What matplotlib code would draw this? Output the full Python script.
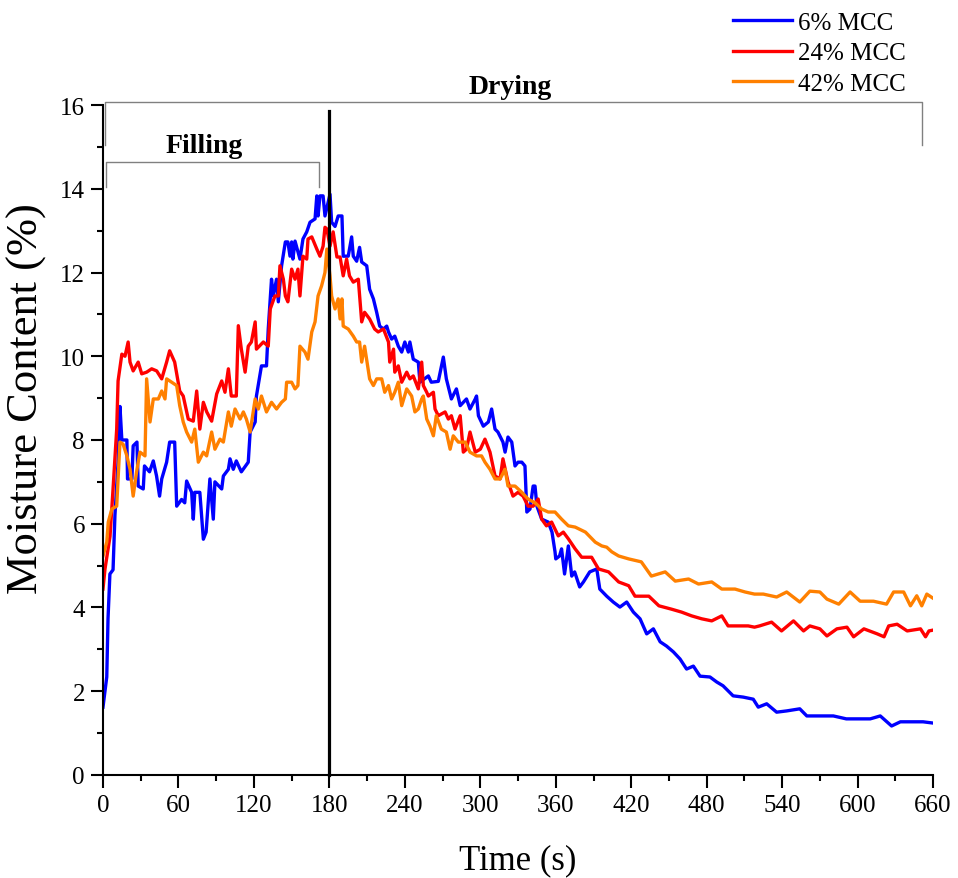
import matplotlib
matplotlib.use("Agg")
import matplotlib.pyplot as plt
from matplotlib.ticker import MultipleLocator

plt.rcParams["font.family"] = "Liberation Serif"

# 6% MCC
t_6 = [0, 3, 4, 5.5, 8, 9.5, 12, 13.5, 15, 19, 19.5, 23, 24, 27, 28, 32, 33, 37, 40, 42.6,
       45, 46.7, 50.6, 53, 57, 58.6, 62.5, 65, 66.5, 70.5, 71.8, 73, 77, 79.8, 82, 85, 87.7, 89,
       94.4, 95.7, 99.7, 101, 103.6, 106, 110, 115.5, 117, 121, 122, 126, 130, 131.4, 134, 135.4,
       138, 139.4, 142, 145, 147, 148.7, 150, 151, 152.7, 156.6, 159, 162, 164.6, 168.6, 170, 171,
       172.5, 175, 176.5, 180.5, 181.8, 184.5, 187, 190, 191, 195, 197.7, 199, 201.7, 204, 205.7,
       209.7, 212, 215, 217.6, 220, 223, 225.6, 227, 229.5, 232, 234.8, 237.5, 240, 242.8, 244,
       246.7, 250.7, 252, 258.7, 261, 266.6, 270.6, 273, 277, 281, 284, 289, 291.8, 296, 297,
       298.5, 302.4, 306.4, 309, 311.7, 314, 318, 319.7, 322, 325, 327.6, 330, 333, 335.5, 337,
       339.5, 342, 343.5, 345, 348.8, 354, 357, 359.4, 360, 363, 364.6, 367, 370, 372.7, 375, 379,
       382, 387, 392.6, 395, 400.5, 405.7, 411, 416.4, 421.7, 427, 432.3, 437.6, 443, 448, 453.5,
       458.8, 464, 469.4, 474.7, 482.6, 488, 493, 501, 509, 517, 521, 527.7, 535.6, 543.6, 554,
       559.6, 570, 580.7, 591, 602, 610, 618, 627, 634, 644, 652, 660]
mc_6 = [1.62, 2.34, 3.73, 4.8, 4.9, 6.2, 7.47, 8.8, 8.0, 8.0, 7.07, 7.07, 7.86, 7.95, 6.9, 6.83, 7.38, 7.24, 7.5, 7.14,
        6.66, 7.07, 7.47, 7.95, 7.95, 6.42, 6.58, 6.5, 7.02, 6.75, 6.11, 6.75, 6.75, 5.63, 5.8, 7.07, 6.11, 7.0,
        6.83, 7.14, 7.3, 7.55, 7.3, 7.5, 7.24, 7.47, 8.19, 8.43, 9.05, 9.77, 9.77, 10.65, 11.84, 11.44,
        11.84, 11.3, 12.16, 12.73, 12.73, 12.39, 12.73, 12.32, 12.75, 12.32, 12.8, 12.97, 13.2, 13.28, 13.83, 13.35,
        13.83, 13.83, 13.35, 13.87, 13.2, 13.1, 13.35, 13.35, 12.39, 12.39, 12.85, 12.39, 12.27, 12.6, 12.25,
        12.16, 11.6, 11.37, 11.05, 10.72, 10.65, 10.72, 10.58, 10.41, 10.48, 10.24, 10.1, 10.34, 10.1, 10.34,
        9.93, 9.86, 9.38, 9.53, 9.38, 9.4, 9.98, 9.46, 8.98, 9.22, 8.82, 8.98, 8.74, 8.98, 9.05,
        8.58, 8.33, 8.43, 8.74, 8.26, 8.19, 7.95, 7.71, 8.07, 7.95, 7.38, 7.47, 7.47, 7.38, 6.28,
        6.35, 6.9, 6.9, 6.42, 6.11, 6.04, 5.8, 5.33, 5.16, 5.23, 5.4, 4.8, 5.47, 4.75, 4.85, 4.49,
        4.61, 4.85, 4.92, 4.44, 4.27, 4.13, 4.01, 4.13, 3.89, 3.73, 3.37, 3.49, 3.18, 3.08, 2.94,
        2.77, 2.53, 2.6, 2.36, 2.34, 2.22, 2.13, 1.89, 1.86, 1.81, 1.62, 1.7, 1.5, 1.53, 1.58,
        1.41, 1.41, 1.41, 1.34, 1.34, 1.34, 1.41, 1.17, 1.27, 1.27, 1.27, 1.24]

# 24% MCC
t_24 = [0, 1.6, 5.6, 8, 10.9, 12, 15, 17.5, 20, 21.5, 24, 28, 30.8, 34.7, 38.7, 42.7, 46.7, 50.6, 53, 57,
        61, 63.8, 67.8, 71.8, 74.5, 77, 79.8, 82.5, 86.4, 90.4, 94.4, 97, 99.7, 102, 106, 107.6, 110,
        113, 115.5, 118, 121, 122, 127.5, 131.4, 133, 136.7, 139.4, 140.7, 143.4, 145, 147, 150, 152.7,
        155, 156.6, 159, 162, 163, 166, 170, 172.5, 175, 176.5, 178, 180.5, 183, 186, 188.5, 191,
        193.7, 196, 199, 203, 205.7, 208, 212, 216, 218.8, 223, 227, 228, 231, 232, 234.8, 237.5,
        241.5, 244, 246.7, 250.7, 253.4, 254.7, 257.4, 258.7, 262.7, 264, 266.6, 272, 274.6, 277,
        279.9, 284, 286.5, 289, 291.8, 296, 300, 303.7, 307.7, 311.7, 315.7, 318, 322, 326, 330,
        334, 338, 342, 346, 348.8, 352.6, 356.7, 362, 366, 370, 375.4, 380.6, 388.5, 394, 402, 410,
        418, 423, 434, 442, 452, 460, 468, 476, 484, 492, 497, 505, 513, 518, 522, 531.6, 539.5,
        549, 557, 562, 570, 575.6, 583.5, 591.5, 596.8, 605, 615.6, 621, 624.7, 631.4, 639.4, 650,
        654, 656.7, 660]
mc_24 = [4.44, 4.92, 5.7, 6.83, 8.26, 9.41, 10.05, 10.0, 10.34, 9.86, 9.65, 9.86, 9.58, 9.62, 9.7, 9.65, 9.46, 9.86, 10.13, 9.86,
         9.17, 9.05, 8.5, 8.45, 9.17, 8.26, 8.9, 8.67, 8.45, 9.1, 9.41, 9.14, 9.7, 9.05, 9.05, 10.73, 10.17,
         9.62, 10.24, 10.34, 10.82, 10.17, 10.34, 10.24, 11.13, 11.44, 11.44, 12.16, 11.84, 11.44, 11.3, 12.08, 11.84,
         12.08, 11.44, 12.39, 12.32, 12.8, 12.85, 12.56, 12.39, 12.63, 13.08, 13.04, 12.63, 12.97, 12.37, 12.37, 11.92,
         12.32, 11.92, 11.77, 11.84, 10.82, 11.05, 10.89, 10.65, 10.58, 10.65, 10.34, 9.86, 10.17, 9.62, 9.77, 9.38,
         9.62, 9.46, 9.53, 9.22, 9.86, 9.3, 9.14, 9.05, 9.14, 8.74, 8.58, 8.67, 8.5, 8.58,
         8.26, 8.58, 7.71, 7.78, 8.19, 7.71, 7.78, 8.02, 7.71, 7.14, 7.07, 7.55, 7.0, 6.66, 6.75,
         6.66, 6.42, 6.42, 6.59, 6.11, 5.95, 6.04, 5.71, 5.8, 5.64, 5.4, 5.2, 5.2, 4.92, 4.85, 4.61,
         4.52, 4.27, 4.27, 4.04, 3.96, 3.89, 3.8, 3.73, 3.68, 3.8, 3.56, 3.56, 3.56, 3.53, 3.56, 3.65, 3.44,
         3.68, 3.44, 3.56, 3.49, 3.32, 3.49, 3.53, 3.3, 3.49, 3.37, 3.3, 3.56, 3.6, 3.44, 3.49,
         3.3, 3.44, 3.46]

# 42% MCC
t_42 = [0, 3, 4.2, 7, 10.9, 13.5, 16, 19, 21.5, 24, 26.7, 29.4, 33.4, 34.7, 37.4, 40, 44, 46.7, 49.3, 50.6,
        54.6, 58.6, 61, 63.8, 66.5, 70.5, 73, 75.8, 79.8, 82.4, 86.4, 89, 93, 95.7, 99.7, 102, 105, 109,
        111.6, 114, 117, 121, 123.5, 126, 130, 134, 138, 142, 145, 146, 150, 152.7, 155, 156.6, 160.6,
        163, 166, 168.6, 171, 173.8, 176.5, 178, 180.5, 181.8, 184.5, 187, 188.5, 190, 191, 195, 199,
        201.7, 204, 205.7, 208, 212, 215, 217.6, 221.6, 224, 227, 229.5, 232, 234.8, 237.5, 241.5,
        245.4, 248, 250.7, 253.4, 254.7, 257.4, 260, 262.7, 265, 269, 273, 276, 278.5, 282.5, 288,
        291.8, 297, 301, 303.7, 307.7, 311.7, 315.7, 319.7, 322, 327.6, 333, 338, 343.5, 348.8, 354,
        359.4, 364.6, 370, 375.4, 383.6, 391.4, 396.6, 400.5, 404.5, 410, 418, 428, 436, 447, 455,
        465.6, 473.5, 484, 492, 502.5, 510.5, 518, 525, 535.6, 543.6, 554, 562, 570, 575.6, 585, 594,
        602, 612.6, 623, 628.6, 636.6, 642, 647, 651, 655, 660]
mc_42 = [5.23, 5.56, 6.04, 6.35, 6.42, 7.95, 7.9, 7.62, 7.3, 6.66, 7.24, 7.71, 7.62, 9.46, 8.43, 8.98, 8.98, 9.17, 8.98, 9.46,
         9.38, 9.3, 8.82, 8.43, 8.19, 7.95, 8.26, 7.47, 7.71, 7.62, 8.19, 7.78, 8.02, 7.95, 8.67, 8.33, 8.74, 8.5,
         8.67, 8.5, 8.19, 8.98, 8.74, 9.05, 8.67, 8.9, 8.74, 8.9, 8.98, 9.38, 9.38, 9.22, 9.3, 10.24, 10.1,
         9.93, 10.58, 10.82, 11.44, 11.68, 12.0, 12.56, 11.92, 11.44, 11.13, 11.37, 10.89, 11.37, 10.72, 10.65, 10.48,
         10.34, 10.34, 9.86, 10.24, 9.46, 9.3, 9.46, 9.46, 9.14, 9.3, 8.98, 9.14, 9.38, 8.82, 9.22,
         9.05, 8.67, 8.74, 8.98, 9.05, 8.5, 8.33, 8.1, 8.58, 8.26, 8.19, 7.78, 8.1, 7.95, 7.95,
         7.71, 7.62, 7.62, 7.47, 7.3, 7.07, 7.07, 7.3, 6.9, 6.9, 6.75, 6.59, 6.5, 6.35, 6.28,
         6.28, 6.11, 5.95, 5.92, 5.8, 5.56, 5.47, 5.44, 5.33, 5.23, 5.16, 5.09, 4.75, 4.85, 4.63,
         4.68, 4.56, 4.61, 4.44, 4.44, 4.37, 4.32, 4.32, 4.25, 4.37, 4.13, 4.39, 4.37, 4.2, 4.08, 4.37,
         4.15, 4.15, 4.08, 4.37, 4.37, 4.04, 4.28, 4.04, 4.32, 4.22]

fig = plt.figure(figsize=(9.58, 8.79), dpi=100)
ax = fig.add_axes([0.1075, 0.1172, 0.8665, 0.7622])

ax.plot(t_6, mc_6, color="#0000FF", lw=2.4, label="6% MCC")
ax.plot(t_24, mc_24, color="#FF0000", lw=2.4, label="24% MCC")
ax.plot(t_42, mc_42, color="#FF8000", lw=2.4, label="42% MCC")

# linea de fin de llenado
ax.plot([180, 180], [0, 15.86], color="black", lw=2.3, clip_on=False)

# corchetes de las etapas
gris = "#808080"
ax.plot([1.6, 1.6, 651, 651], [15.04, 16.07, 16.07, 15.04], color=gris, lw=1, clip_on=False)
ax.plot([2, 2, 172, 172], [14.03, 14.63, 14.63, 14.03], color=gris, lw=1, clip_on=False)
ax.text(324, 16.45, "Drying", ha="center", va="center", fontsize=20, fontweight="bold")
ax.text(80.7, 15.04, "Filling", ha="center", va="center", fontsize=20, fontweight="bold")

ax.set_xlim(0, 660)
ax.set_ylim(0, 16)
ax.xaxis.set_major_locator(MultipleLocator(60))
ax.xaxis.set_minor_locator(MultipleLocator(30))
ax.yaxis.set_major_locator(MultipleLocator(2))
ax.yaxis.set_minor_locator(MultipleLocator(1))
ax.tick_params(which="major", direction="out", length=9, width=1.5, labelsize=18)
ax.tick_params(which="minor", direction="out", length=4.5, width=1.5)
ax.tick_params(axis="x", pad=5)
ax.tick_params(axis="y", pad=4)
for s in ["top", "right"]:
    ax.spines[s].set_visible(False)
for s in ["left", "bottom"]:
    ax.spines[s].set_linewidth(1.5)

ax.set_xlabel("Time (s)", fontsize=25, labelpad=19)
ax.set_ylabel("Moisture Content (%)", fontsize=32)
ax.yaxis.set_label_coords(-0.068, 0.563)

fig.legend(loc="upper left", bbox_to_anchor=(733 / 958, 1 - 12 / 879), frameon=False,
           fontsize=18, handlelength=2.35, handletextpad=0.25, labelspacing=0.33,
           borderpad=0, borderaxespad=0)

fig.savefig("out.png", dpi=100)
